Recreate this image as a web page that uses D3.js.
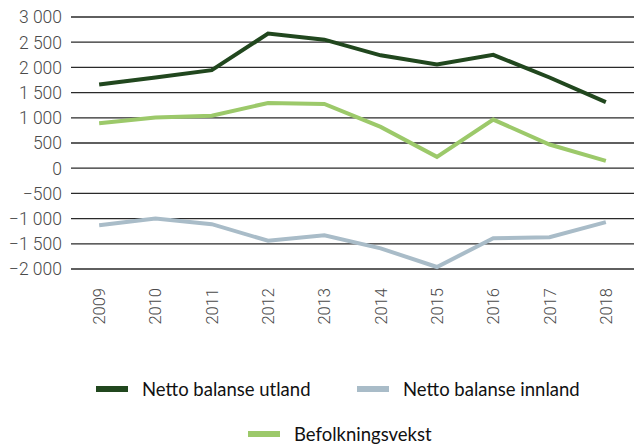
<!DOCTYPE html>
<html>
<head>
<meta charset="utf-8">
<script src="https://cdn.jsdelivr.net/npm/d3@7"></script>
<style>
  body { margin: 0; background: #fff; }
  svg { display: block; }
</style>
</head>
<body>
<div id="chart"></div>
<script>
const years = ["2009", "2010", "2011", "2012", "2013", "2014", "2015", "2016", "2017", "2018"]
const utland = [1660, 1800, 1945, 2670, 2550, 2240, 2060, 2250, 1800, 1310]
const innland = [-1130, -1000, -1110, -1440, -1330, -1590, -1960, -1390, -1370, -1070]
const befolkning = [890, 1005, 1040, 1295, 1275, 820, 225, 965, 470, 145]
const yTicks = [3000, 2500, 2000, 1500, 1000, 500, 0, -500, -1000, -1500, -2000]

const W = 634, H = 446
const svg = d3.select('#chart')
  .append('svg')
  .attr('width', W)
  .attr('height', H)

const x = d3.scalePoint()
  .domain(years)
  .range([71, 634])
  .padding(0.5)

const y = d3.scaleLinear()
  .domain([-2000, 3000])
  .range([269, 17])

const fmt = d => d3.format(",")(d).replace(/,/g, " ").replace("-", "\u2212")

// grid lines
svg.selectAll('.grid')
  .data(yTicks)
  .enter()
  .append('line')
  .attr('x1', 71)
  .attr('x2', W)
  .attr('y1', d => y(d))
  .attr('y2', d => y(d))
  .attr('stroke', '#2a2a2a')
  .attr('stroke-width', 1.3)

svg.selectAll('.ylab')
  .data(yTicks)
  .enter()
  .append('text')
  .attr('x', 62)
  .attr('y', d => y(d))
  .attr('dy', '0.36em')
  .attr('text-anchor', 'end')
  .style('font-family', 'Roboto')
  .style('font-weight', 300)
  .style('font-size', '17.5px')
  .style('fill', '#4a4a4a')
  .text(fmt)

svg.selectAll('.xlab')
  .data(years)
  .enter()
  .append('text')
  .attr('transform', d => `translate(${x(d) + 6},288) rotate(-90)`)
  .attr('text-anchor', 'end')
  .style('font-family', 'Roboto')
  .style('font-weight', 300)
  .style('font-size', '16.5px')
  .style('fill', '#4a4a4a')
  .text(d => d)

const series = [
  { name: 'Netto balanse utland', values: utland, color: '#21471e' },
  { name: 'Netto balanse innland', values: innland, color: '#a9bcc8' },
  { name: 'Befolkningsvekst', values: befolkning, color: '#9cc96a' }
]

const line = d3.line()
  .x((d, i) => x(years[i]))
  .y(d => y(d))

svg.selectAll('.series')
  .data(series)
  .enter()
  .append('path')
  .attr('d', d => line(d.values))
  .attr('fill', 'none')
  .attr('stroke', d => d.color)
  .attr('stroke-width', 4)

// legend
const legendPos = [
  { x: 96, y: 389 },
  { x: 357, y: 389 },
  { x: 248, y: 434 }
]

const legend = svg.selectAll('.legend')
  .data(series)
  .enter()
  .append('g')
  .attr('transform', (d, i) => `translate(${legendPos[i].x},${legendPos[i].y})`)

legend.append('line')
  .attr('x1', 0)
  .attr('x2', 32)
  .attr('stroke', d => d.color)
  .attr('stroke-width', 6)

legend.append('text')
  .attr('x', 46)
  .attr('dy', '0.36em')
  .style('font-family', 'Lato')
  .style('font-size', '18.5px')
  .style('fill', '#111')
  .text(d => d.name)
</script>
</body>
</html>
